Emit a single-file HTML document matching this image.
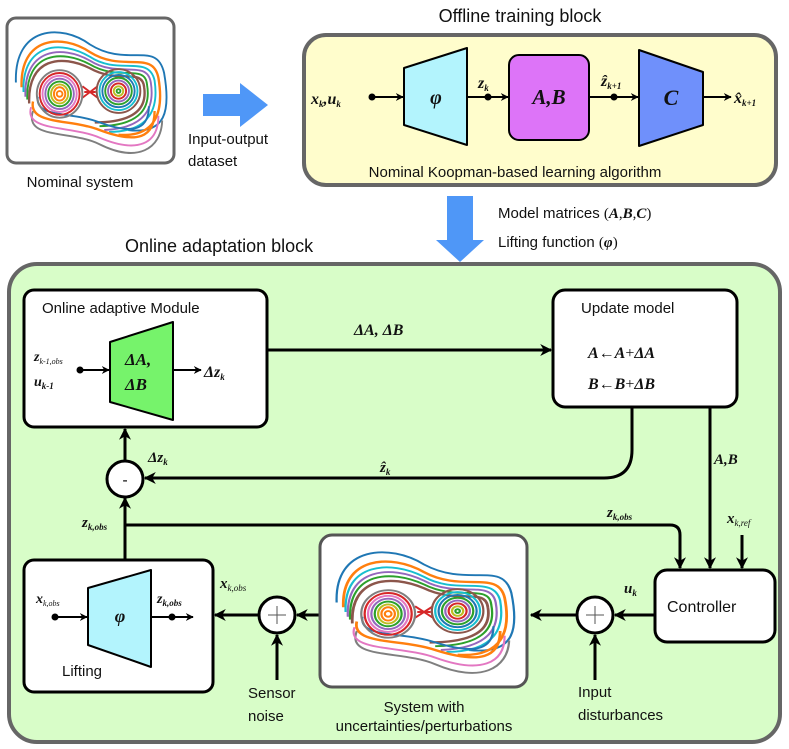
<!DOCTYPE html>
<html><head><meta charset="utf-8"><style>
html,body{margin:0;padding:0;background:#fff}
svg{display:block}
.s{font-family:"Liberation Sans",sans-serif;fill:#111}
.m{font-family:"Liberation Serif",serif;font-style:italic;font-weight:bold;fill:#111}
.r{font-family:"Liberation Serif",serif;fill:#111}
</style></head><body>
<svg width="789" height="749" viewBox="0 0 789 749" xmlns="http://www.w3.org/2000/svg">
<defs>
<marker id="ah" viewBox="0 0 10 10" refX="9" refY="5" markerWidth="4" markerHeight="4" orient="auto"><path d="M0,0 L10,5 L0,10 L3,5 z" fill="#000"/></marker>
<g id="sp" fill="none" stroke-width="2">
<path d="M-78,-10 C-80,-70 -30,-72 0,-50 C40,-25 70,-55 78,-20 C85,20 80,45 40,40" stroke="#1f77b4"/>
<path d="M-72,-5 C-74,-58 -30,-62 0,-42 C35,-20 66,-45 72,-15 C78,20 70,48 30,45" stroke="#ff7f0e" stroke-width="2.5"/>
<path d="M-70,0 C-72,-52 -30,-55 0,-37 C30,-17 62,-40 68,-12 C72,15 65,42 20,42" stroke="#17becf"/>
<path d="M-68,5 C-70,-46 -30,-50 0,-33 C30,-14 60,-35 64,-10 C68,15 60,38 15,40" stroke="#9467bd"/>
<path d="M-66,8 C-68,-42 -30,-45 0,-29 C30,-11 58,-30 60,-8 C64,15 55,35 10,36" stroke="#2ca02c"/>
<path d="M-64,12 C-66,-36 -30,-40 0,-25 C30,-8 55,-26 57,-5 C60,15 50,32 5,32" stroke="#8c564b" stroke-width="2.5"/>
<path d="M-60,20 C-70,50 -20,40 10,55 C50,75 75,60 76,30" stroke="#7f7f7f"/>
<path d="M-62,16 C-70,42 -20,35 10,48 C50,65 72,55 72,25" stroke="#e377c2"/>
<path d="M-60,10 C-65,35 -20,28 10,40 C50,55 68,48 68,20" stroke="#ff7f0e" stroke-width="2.5"/>
<path d="M-55,5 C-58,28 -20,20 10,32 C45,45 62,40 62,15" stroke="#1f77b4"/>
<path d="M-6,0 L6,0 M-8,-6 L0,0 L8,-6 M-8,6 L0,0 L8,6" stroke="#d62728"/>
<g transform="translate(-32,2)">
<ellipse rx="24" ry="25" stroke="#7f7f7f"/><ellipse rx="21" ry="22" stroke="#d62728"/><ellipse rx="18" ry="19" stroke="#e377c2"/><ellipse rx="15" ry="16" stroke="#9467bd"/><ellipse rx="12" ry="13" stroke="#2ca02c"/><ellipse rx="9" ry="10" stroke="#bcbd22"/><ellipse rx="6" ry="7" stroke="#ff7f0e"/><ellipse rx="3" ry="3" stroke="#ff7f0e"/></g>
<g transform="translate(30,-1)">
<ellipse rx="23" ry="23" stroke="#8c564b"/><ellipse rx="20" ry="20" stroke="#17becf"/><ellipse rx="17" ry="17" stroke="#1f77b4"/><ellipse rx="14" ry="14" stroke="#2ca02c"/><ellipse rx="11" ry="11" stroke="#9467bd"/><ellipse rx="8" ry="8" stroke="#d62728"/><ellipse rx="5" ry="5" stroke="#bcbd22"/><ellipse rx="2" ry="2" stroke="#2ca02c"/></g>
</g>
</defs>

<!-- nominal system -->
<rect x="7" y="18" width="167" height="145" rx="9" fill="#fff" stroke="#666" stroke-width="3"/>
<use href="#sp" transform="translate(90,92) scale(0.95,0.95)"/>
<text x="80" y="187" class="s" font-size="15" text-anchor="middle">Nominal system</text>
<path d="M203,94 H240 V83 L268,105 L240,127 V116 H203 z" fill="#4f97f7"/>
<text x="188" y="144" class="s" font-size="15">Input-output</text>
<text x="188" y="166" class="s" font-size="15">dataset</text>

<!-- offline -->
<text x="520" y="22" class="s" font-size="18" text-anchor="middle">Offline training block</text>
<rect x="304" y="35" width="472" height="150" rx="22" fill="#fffdcc" stroke="#666" stroke-width="4"/>
<path d="M404,68 L467,48 V145 L404,125 z" fill="#b3f4fd" stroke="#000" stroke-width="2" stroke-linejoin="round"/>
<rect x="509" y="55" width="80" height="85" rx="10" fill="#dd74f8" stroke="#000" stroke-width="2"/>
<path d="M639,50 L703,72 V125 L639,146 z" fill="#6f90fb" stroke="#000" stroke-width="2" stroke-linejoin="round"/>
<g stroke="#000" stroke-width="2" fill="none" marker-end="url(#ah)">
<line x1="372" y1="97" x2="403" y2="97"/><line x1="467" y1="97" x2="508" y2="97"/><line x1="589" y1="97" x2="638" y2="97"/><line x1="703" y1="97" x2="731" y2="97"/></g>
<circle cx="372" cy="97" r="3.5"/><circle cx="488" cy="97" r="3.5"/><circle cx="614" cy="97" r="3.5"/>
<text x="436" y="104" class="m" font-size="20" text-anchor="middle">φ</text>
<text x="549" y="104" class="m" font-size="21" text-anchor="middle">A,B</text>
<text x="671" y="105" class="m" font-size="22" text-anchor="middle">C</text>
<text x="311" y="104" class="m" font-size="16">x<tspan font-size="9" dy="3">k</tspan><tspan dy="-3">,u</tspan><tspan font-size="9" dy="3">k</tspan></text>
<text x="478" y="88" class="m" font-size="16">z<tspan font-size="9" dy="3">k</tspan></text>
<text x="601" y="86" class="m" font-size="16">ẑ<tspan font-size="9" dy="3">k+1</tspan></text>
<text x="734" y="103" class="m" font-size="16">x̂<tspan font-size="9" dy="3">k+1</tspan></text>
<text x="515" y="177" class="s" font-size="15" text-anchor="middle">Nominal Koopman-based learning algorithm</text>

<path d="M447,196 H473 V240 H484 L460,262 L436,240 H447 z" fill="#4f97f7"/>
<text x="498" y="218" class="s" font-size="15">Model matrices <tspan class="r">(</tspan><tspan class="m">A</tspan><tspan class="r">,</tspan><tspan class="m">B</tspan><tspan class="r">,</tspan><tspan class="m">C</tspan><tspan class="r">)</tspan></text>
<text x="498" y="247" class="s" font-size="15">Lifting function <tspan class="r">(</tspan><tspan class="m">φ</tspan><tspan class="r">)</tspan></text>
<text x="125" y="252" class="s" font-size="18">Online adaptation block</text>

<!-- online block -->
<rect x="9" y="264" width="771" height="478" rx="28" fill="#d8fdc8" stroke="#666" stroke-width="4"/>
<rect x="24" y="290" width="243" height="137" rx="10" fill="#fff" stroke="#000" stroke-width="3"/>
<text x="42" y="313" class="s" font-size="15">Online adaptive Module</text>
<path d="M110,342 L173,322 V420 L110,402 z" fill="#76f36b" stroke="#000" stroke-width="2" stroke-linejoin="round"/>
<text x="125" y="365" class="m" font-size="17">ΔA,</text>
<text x="125" y="390" class="m" font-size="17">ΔB</text>
<text x="34" y="361" class="m" font-size="14">z<tspan font-size="8" dy="3" font-weight="normal">k-1,obs</tspan></text>
<text x="34" y="386" class="m" font-size="14">u<tspan font-size="9" dy="3">k-1</tspan></text>
<circle cx="80" cy="370" r="3.5"/>
<g stroke="#000" stroke-width="2" fill="none" marker-end="url(#ah)">
<line x1="80" y1="370" x2="109" y2="370"/><line x1="173" y1="370" x2="201" y2="370"/></g>
<text x="204" y="377" class="m" font-size="16">Δz<tspan font-size="9" dy="3">k</tspan></text>

<g stroke="#000" stroke-width="3" fill="none" marker-end="url(#ah)">
<line x1="267" y1="350" x2="551" y2="350"/>
<path d="M632,407 V450 Q632,478 604,478 H145"/>
<line x1="710" y1="407" x2="710" y2="568"/>
<line x1="125" y1="460" x2="125" y2="429"/>
<line x1="125" y1="560" x2="125" y2="498"/>
<path d="M125,525 H670 Q680,525 680,535 V568"/>
<line x1="742" y1="535" x2="742" y2="568"/>
<line x1="655" y1="615" x2="615" y2="615"/>
<line x1="577" y1="615" x2="531" y2="615"/>
<line x1="595" y1="680" x2="595" y2="635"/>
<line x1="320" y1="615" x2="297" y2="615"/>
<line x1="259" y1="615" x2="215" y2="615"/>
<line x1="277" y1="680" x2="277" y2="635"/>
</g>
<text x="354" y="335" class="m" font-size="16">ΔA, ΔB</text>
<rect x="553" y="290" width="184" height="117" rx="12" fill="#fff" stroke="#000" stroke-width="3"/>
<text x="581" y="313" class="s" font-size="15">Update model</text>
<text x="588" y="358" class="r" font-size="16"><tspan class="m">A</tspan>←<tspan class="m">A</tspan>+<tspan class="m">ΔA</tspan></text>
<text x="588" y="389" class="r" font-size="16"><tspan class="m">B</tspan>←<tspan class="m">B</tspan>+<tspan class="m">ΔB</tspan></text>
<text x="714" y="464" class="m" font-size="15">A,B</text>
<text x="380" y="472" class="m" font-size="15">ẑ<tspan font-size="9" dy="3">k</tspan></text>
<circle cx="125" cy="479" r="18" fill="#fff" stroke="#000" stroke-width="3"/>
<text x="125" y="485" class="s" font-size="16" text-anchor="middle">-</text>
<text x="148" y="462" class="m" font-size="15">Δz<tspan font-size="9" dy="3">k</tspan></text>
<text x="82" y="527" class="m" font-size="15">z<tspan font-size="9" dy="3">k,obs</tspan></text>
<text x="607" y="517" class="m" font-size="15">z<tspan font-size="9" dy="3">k,obs</tspan></text>
<text x="727" y="523" class="m" font-size="15">x<tspan font-size="9" dy="3" font-weight="normal">k,ref</tspan></text>

<rect x="655" y="570" width="120" height="72" rx="12" fill="#fff" stroke="#000" stroke-width="3"/>
<text x="667" y="612" class="s" font-size="16">Controller</text>
<text x="624" y="593" class="m" font-size="15">u<tspan font-size="9" dy="3">k</tspan></text>
<circle cx="595" cy="615" r="18" fill="#fff" stroke="#000" stroke-width="3"/>
<path d="M586,615 H604 M595,606 V624" stroke="#555" stroke-width="1"/>
<text x="578" y="697" class="s" font-size="15">Input</text>
<text x="578" y="720" class="s" font-size="15">disturbances</text>

<rect x="320" y="535" width="207" height="152" rx="12" fill="#fff" stroke="#555" stroke-width="3"/>
<use href="#sp" transform="translate(424,612) scale(1.12,0.95)"/>
<text x="424" y="712" class="s" font-size="15" text-anchor="middle">System with</text>
<text x="424" y="731" class="s" font-size="15" text-anchor="middle">uncertainties/perturbations</text>

<circle cx="277" cy="615" r="18" fill="#fff" stroke="#000" stroke-width="3"/>
<path d="M268,615 H286 M277,606 V624" stroke="#555" stroke-width="1"/>
<text x="248" y="698" class="s" font-size="15">Sensor</text>
<text x="248" y="721" class="s" font-size="15">noise</text>
<text x="220" y="588" class="m" font-size="15">x<tspan font-size="9" dy="3" font-weight="normal">k,obs</tspan></text>

<rect x="24" y="560" width="189" height="132" rx="10" fill="#fff" stroke="#000" stroke-width="3"/>
<path d="M88,588 L151,570 V667 L88,645 z" fill="#b3f4fd" stroke="#000" stroke-width="2" stroke-linejoin="round"/>
<text x="120" y="622" class="m" font-size="18" text-anchor="middle">φ</text>
<text x="36" y="603" class="m" font-size="14">x<tspan font-size="8" dy="3" font-weight="normal">k,obs</tspan></text>
<text x="157" y="603" class="m" font-size="14">z<tspan font-size="9" dy="3">k,obs</tspan></text>
<circle cx="55" cy="617" r="3.5"/><circle cx="172" cy="617" r="3.5"/>
<g stroke="#000" stroke-width="2" fill="none" marker-end="url(#ah)">
<line x1="55" y1="617" x2="87" y2="617"/><line x1="151" y1="617" x2="193" y2="617"/></g>
<text x="62" y="676" class="s" font-size="15">Lifting</text>
</svg>
</body></html>
